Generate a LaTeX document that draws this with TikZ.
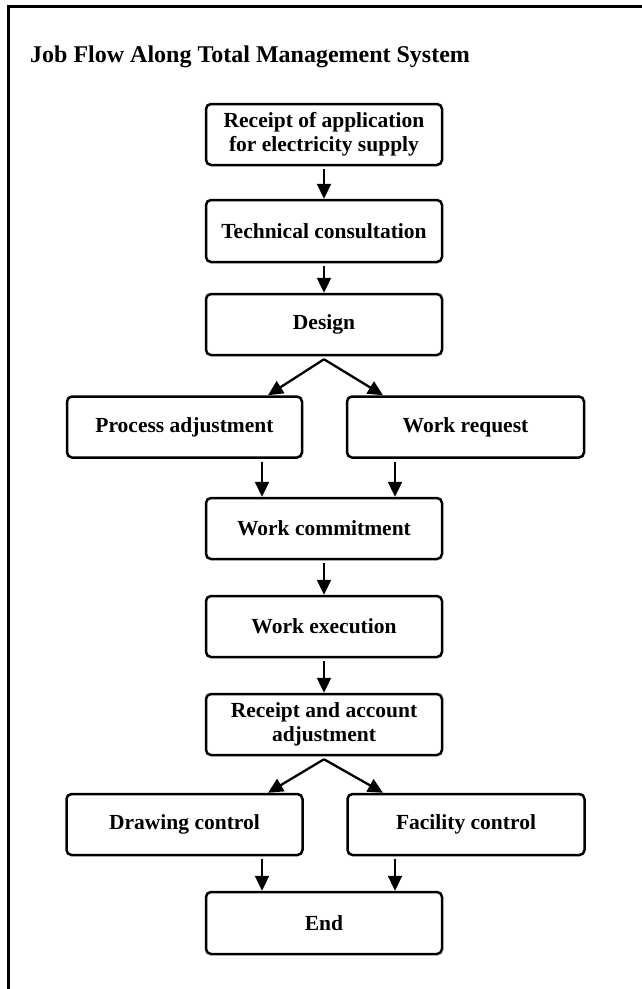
\documentclass[tikz,border=0pt]{standalone}
\usepackage{fontspec}
\setmainfont{Liberation Serif}
\usetikzlibrary{arrows.meta}
\begin{document}
\begin{tikzpicture}[x=1pt,y=-1pt,
  box/.style={draw, line width=2.5pt, rounded corners=5pt, minimum height=61pt, inner sep=0pt,
    font=\fontsize{21.5}{24}\selectfont\bfseries, align=center},
  cbox/.style={box, minimum width=236pt},
  arr/.style={line width=2.3pt, -{Triangle[length=15pt,width=14pt]}, shorten <=3pt},
  fork/.style={arr, shorten <=0pt}]
\useasboundingbox (0,0) rectangle (641,989);
% frame
\draw[line width=3pt] (8.5,1000) -- (8.5,6) -- (660,6);
\node[anchor=base west, inner sep=0pt, font=\fontsize{24}{28}\selectfont\bfseries] (title) at (30,62) {Job Flow Along Total Management System};
% boxes
\node[cbox] (rcpt) at (324,134.5) {Receipt of application\\for electricity supply};
\node[cbox, minimum height=62pt] (tech) at (324,231) {Technical consultation};
\node[cbox] (des) at (324,324.5) {Design};
\node[box, minimum width=235pt] (pa) at (184.5,427) {Process adjustment};
\node[box, minimum width=237pt] (wr) at (465.5,427) {Work request};
\node[cbox] (wc) at (324,528.5) {Work commitment};
\node[cbox] (we) at (324,626.5) {Work execution};
\node[cbox] (ra) at (324,724.5) {Receipt and account\\adjustment};
\node[box, minimum width=236pt] (dc) at (184.5,824.5) {Drawing control};
\node[box, minimum width=237pt] (fc) at (466,824.5) {Facility control};
\node[cbox, minimum height=62pt] (end) at (324,923) {End};
% helper positions
\coordinate (xl) at (262,0);
\coordinate (xr) at (395,0);
\coordinate (fl) at (268,0);
\coordinate (fr) at (383,0);
\coordinate (dapex) at ([yshift=-3pt]des.south);
\coordinate (rapex) at ([yshift=-3pt]ra.south);
% connectors
\draw[arr] (rcpt.south) -- (tech.north);
\draw[arr] (tech.south) -- (des.north);
\draw[fork] (dapex) -- (pa.north -| fl);
\draw[fork] (dapex) -- (wr.north -| fr);
\draw[arr] (pa.south -| xl) -- (wc.north -| xl);
\draw[arr] (wr.south -| xr) -- (wc.north -| xr);
\draw[arr] (wc.south) -- (we.north);
\draw[arr] (we.south) -- (ra.north);
\draw[fork] (rapex) -- (dc.north -| fl);
\draw[fork] (rapex) -- (fc.north -| fr);
\draw[arr] (dc.south -| xl) -- (end.north -| xl);
\draw[arr] (fc.south -| xr) -- (end.north -| xr);
\end{tikzpicture}
\end{document}
